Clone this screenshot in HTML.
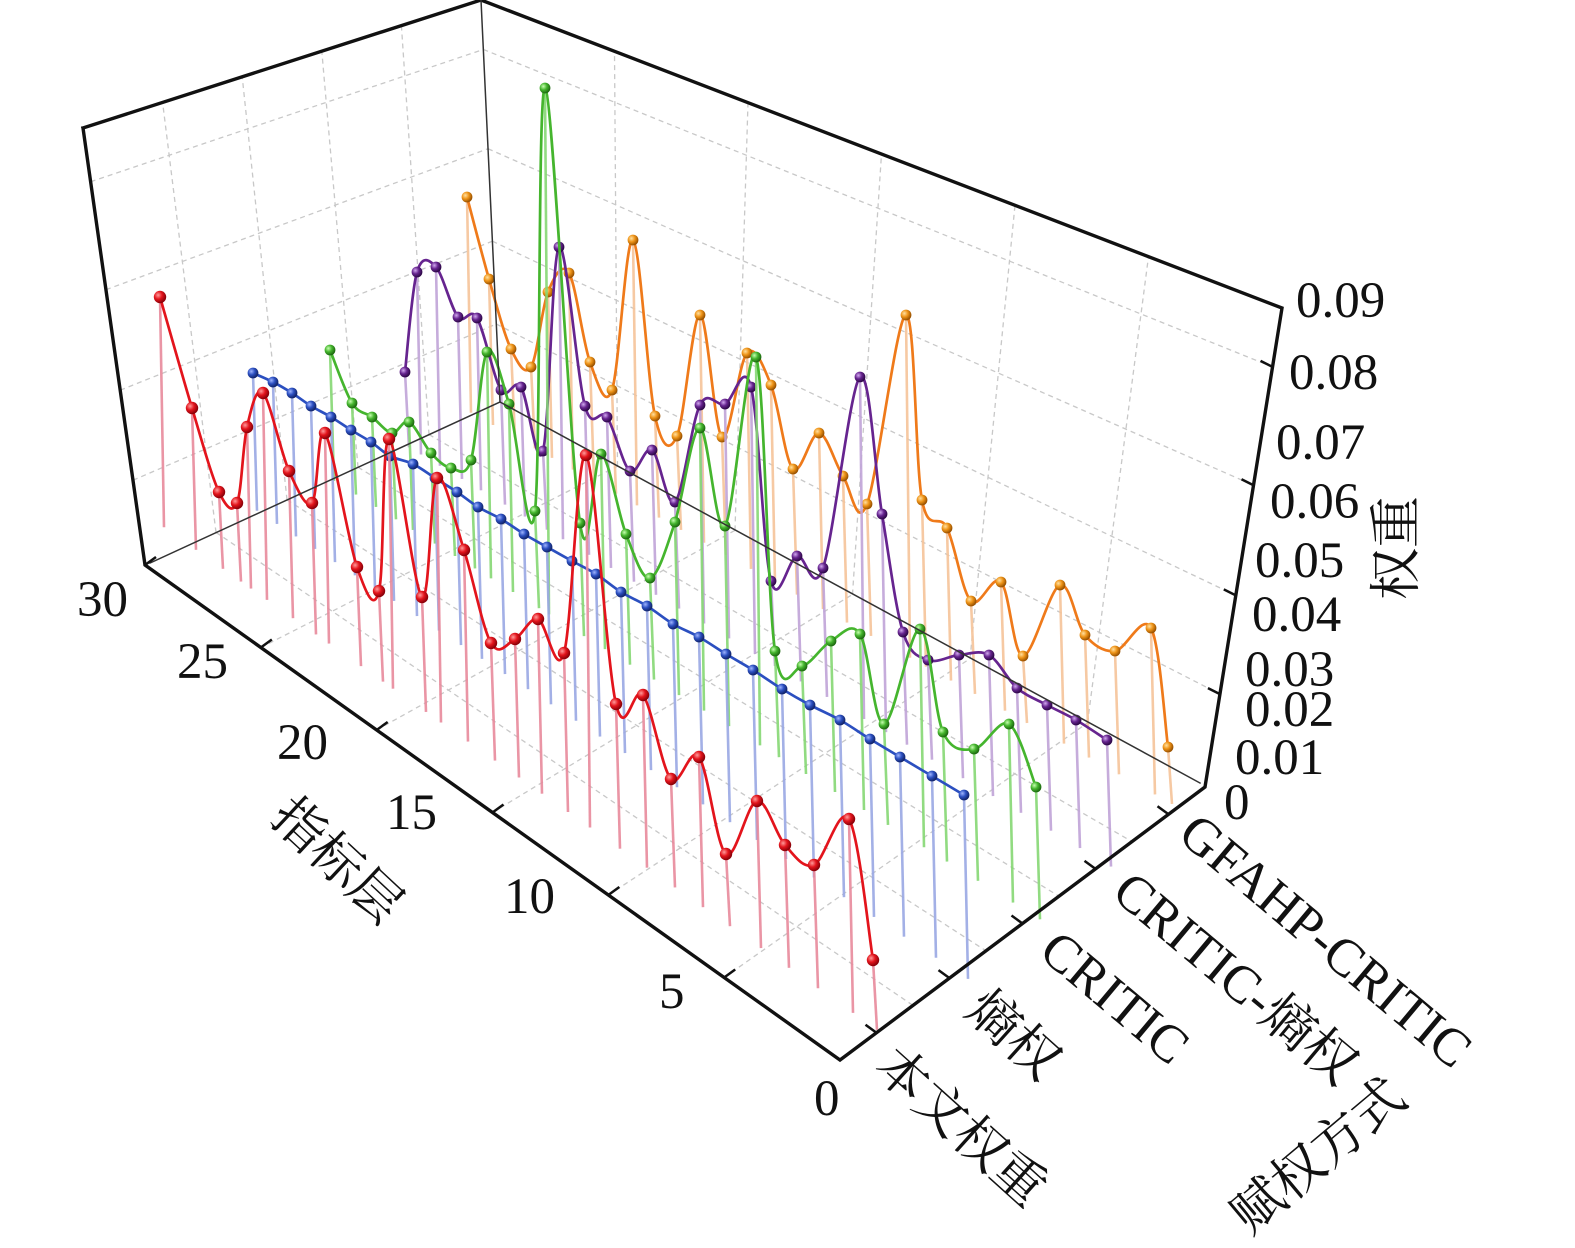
<!DOCTYPE html>
<html><head><meta charset="utf-8">
<style>
html,body{margin:0;padding:0;background:#fff;}
svg{display:block;}
.t{font-family:"Liberation Serif","Noto Serif CJK SC",serif;fill:#111;}
</style></head>
<body>
<svg id="s" width="1575" height="1248" viewBox="0 0 1575 1248" xmlns="http://www.w3.org/2000/svg">
<defs>
<radialGradient id="gr" cx="35%" cy="35%" r="65%"><stop offset="0" stop-color="#ff9a9a"/><stop offset="0.5" stop-color="#e3141c"/><stop offset="1" stop-color="#8a0008"/></radialGradient>
<radialGradient id="gb" cx="35%" cy="35%" r="65%"><stop offset="0" stop-color="#9fb4ff"/><stop offset="0.5" stop-color="#2b4fc0"/><stop offset="1" stop-color="#12246a"/></radialGradient>
<radialGradient id="gg" cx="35%" cy="35%" r="65%"><stop offset="0" stop-color="#c6ffb0"/><stop offset="0.5" stop-color="#45b52e"/><stop offset="1" stop-color="#1d6a10"/></radialGradient>
<radialGradient id="gp" cx="35%" cy="35%" r="65%"><stop offset="0" stop-color="#d2a8f0"/><stop offset="0.5" stop-color="#66248f"/><stop offset="1" stop-color="#2e0848"/></radialGradient>
<radialGradient id="go" cx="35%" cy="35%" r="65%"><stop offset="0" stop-color="#ffe0a0"/><stop offset="0.5" stop-color="#ef9418"/><stop offset="1" stop-color="#9a5200"/></radialGradient>
</defs>
<g id="grid"></g>
<g id="series"></g>
<g id="axes" stroke="#111" fill="none" stroke-linecap="square">
<polyline points="83,128 145,565 840,1060 1205,787 1282,308 481,0 83,128" stroke-width="3.4"/>
<line x1="481" y1="0" x2="500" y2="402" stroke-width="1.5" stroke="#333"/>
<line x1="150" y1="563" x2="500" y2="402" stroke-width="1.5" stroke="#333"/>
<line x1="500" y1="402" x2="1200" y2="783" stroke-width="1.5" stroke="#333"/>
</g>
<g id="ticks" stroke="#111" stroke-width="2.5"></g>
<g class="t" font-size="51">
<text x="77" y="616">30</text>
<text x="177" y="678">25</text>
<text x="277" y="759">20</text>
<text x="386" y="829">15</text>
<text x="504" y="913">10</text>
<text x="659" y="1008">5</text>
<text x="814" y="1115">0</text>
</g>
<g class="t" font-size="51">
<text x="1296" y="317">0.09</text>
<text x="1289" y="389">0.08</text>
<text x="1276" y="459">0.07</text>
<text x="1270" y="518">0.06</text>
<text x="1255" y="577">0.05</text>
<text x="1252" y="631">0.04</text>
<text x="1245" y="686">0.03</text>
<text x="1245" y="726">0.02</text>
<text x="1235" y="774">0.01</text>
<text x="1224" y="819">0</text>
</g>
<g class="t" font-size="52">
<text transform="translate(1414,600) rotate(-90)">权重</text>
<text transform="translate(268,820) rotate(43)">指标层</text>
<text transform="translate(872,1070) rotate(42)">本文权重</text>
<text transform="translate(963,1013) rotate(42)">熵权</text>
</g>
<g class="t" font-size="53">
<text transform="translate(1037,955) rotate(40)">CRITIC</text>
<text transform="translate(1110,896) rotate(40)">CRITIC-熵权</text>
<text transform="translate(1176,838) rotate(40)">GFAHP-CRITIC</text>
<text transform="translate(1250,1236) rotate(-40)" font-size="52">赋权方式</text>
</g>
</svg>
<script>
(function(){
var NS="http://www.w3.org/2000/svg";
function el(p,n,a){var e=document.createElementNS(NS,n);for(var k in a)e.setAttribute(k,a[k]);p.appendChild(e);return e;}
function L(p,q,t){return [p[0]+(q[0]-p[0])*t,p[1]+(q[1]-p[1])*t];}
var A=[145,565],B=[840,1060],C=[1205,787],D=[500,402],A2=[83,128],D2=[481,0],C2=[1282,308];
var g=document.getElementById('grid');
var gs={stroke:"#c8c8c8","stroke-width":1.3,"stroke-dasharray":"5,4",fill:"none"};
function line(p,q,a){var o={x1:p[0],y1:p[1],x2:q[0],y2:q[1]};for(var k in a)o[k]=a[k];el(g,'line',o);}
var fr=[0.194,0.40,0.63,0.877];
for(var k=1;k<6;k++){var t=k/6;line(L(D,C,t),L(D2,C2,t),gs);}
fr.forEach(function(f){line(L(D,D2,f),L(C,C2,f),gs);});
for(var k=1;k<5;k++){var v=k/5;line(L(A,D,v),L(A2,D2,v),gs);}
fr.forEach(function(f){line(L(A,A2,f),L(D,D2,f),gs);});
for(var k=1;k<6;k++){var t=k/6;line(L(A,B,t),L(D,C,t),gs);}
for(var k=1;k<5;k++){var v=k/5;line(L(A,D,v),L(B,C,v),gs);}
var tk=document.getElementById('ticks');
for(var k=0;k<=6;k++){var p=L(A,B,k/6);el(tk,'line',{x1:p[0],y1:p[1],x2:p[0]+11,y2:p[1]-8});}
for(var k=1;k<=5;k++){var p=L(B,C,(k-0.5)/5);el(tk,'line',{x1:p[0],y1:p[1],x2:p[0]-11,y2:p[1]-8});}
[0.194,0.40,0.63,0.877].forEach(function(f){var p=L(C,C2,f);el(tk,'line',{x1:p[0],y1:p[1],x2:p[0]-12,y2:p[1]-6});});

var S=[
 {c:"#e3141c",s:"#e88a9c",g:"gr",r:6.2,b:[[192,547],[873,1027]],p:[[160,297],[192,408],[219,492],[237,503],[247,427],[263,393],[289,471],[312,503],[325,433],[357,567],[379,591],[389,439],[422,597],[437,478],[464,550],[491,643],[515,639],[538,619],[564,653],[586,455],[616,704],[643,695],[671,779],[699,757],[726,854],[757,801],[785,845],[814,865],[849,819],[873,960]]},
 {c:"#2b4fc0",s:"#9aa8e4",g:"gb",r:5.4,b:[[268,518],[950,967]],p:[]},
 {c:"#45b52e",s:"#86d874",g:"gg",r:5.4,b:[[360,497],[1025,910]],p:[[330,350],[352,403],[372,417],[392,433],[409,422],[431,453],[451,468],[471,460],[487,352],[509,404],[535,511],[545,88],[580,523],[601,454],[626,534],[650,578],[675,522],[700,428],[725,526],[756,357],[775,651],[802,666],[831,641],[860,634],[884,724],[920,629],[943,732],[974,749],[1009,724],[1036,787]]},
 {c:"#66248f",s:"#c0a4d8",g:"gp",r:5.4,b:[[447,470],[1095,857]],p:[[405,372],[417,272],[436,267],[458,317],[477,318],[501,390],[521,387],[543,451],[559,247],[585,406],[607,417],[630,471],[652,450],[675,502],[700,405],[725,404],[751,387],[771,581],[797,556],[823,568],[860,377],[882,514],[903,632],[928,660],[959,655],[989,655],[1017,688],[1047,705],[1076,720],[1107,740]]},
 {c:"#ef7a1a",s:"#f6c49a",g:"go",r:5.4,b:[[502,430],[1165,800]],p:[[467,197],[489,279],[511,349],[531,367],[548,292],[569,273],[590,362],[612,390],[633,240],[655,416],[677,436],[700,315],[722,437],[747,353],[771,385],[793,469],[819,433],[843,476],[867,504],[906,315],[922,500],[947,528],[971,601],[1001,582],[1023,656],[1060,585],[1085,635],[1115,651],[1151,628],[1168,747]]}
];
var bx=[253,273,292,311,331,351,371,390,413,435,457,478,501,524,547,572,596,621,647,673,699,726,753,782,810,840,870,900,932,964];
var by=[373,382,393,406,417,430,442,456,464,478,492,507,519,534,547,561,574,592,606,624,637,654,670,689,705,720,739,757,776,795];
for(var i=0;i<30;i++)S[1].p.push([bx[i],by[i]]);
function cr(P){var d="M"+P[0][0]+","+P[0][1];for(var i=0;i<P.length-1;i++){var p0=P[Math.max(0,i-1)],p1=P[i],p2=P[i+1],p3=P[Math.min(P.length-1,i+2)];
 d+=" C"+(p1[0]+(p2[0]-p0[0])/6).toFixed(1)+","+(p1[1]+(p2[1]-p0[1])/6).toFixed(1)+" "+(p2[0]-(p3[0]-p1[0])/6).toFixed(1)+","+(p2[1]-(p3[1]-p1[1])/6).toFixed(1)+" "+p2[0]+","+p2[1];}return d;}
var sg=document.getElementById('series');
for(var si=4;si>=0;si--){var s=S[si];var b0=s.b[0],b1=s.b[1];var sl=(b1[1]-b0[1])/(b1[0]-b0[0]);
 var gg=el(sg,'g',{});
 s.p.forEach(function(p){var yb=b0[1]+sl*(p[0]+4-b0[0]);el(gg,'line',{x1:p[0],y1:p[1],x2:p[0]+4,y2:yb,stroke:s.s,"stroke-width":2.6,opacity:0.9});});
 el(gg,'path',{d:cr(s.p),stroke:s.c,"stroke-width":2.7,fill:"none"});
 s.p.forEach(function(p){el(gg,'circle',{cx:p[0],cy:p[1],r:s.r,fill:"url(#"+s.g+")"});});
}
})();
</script>
</body></html>
